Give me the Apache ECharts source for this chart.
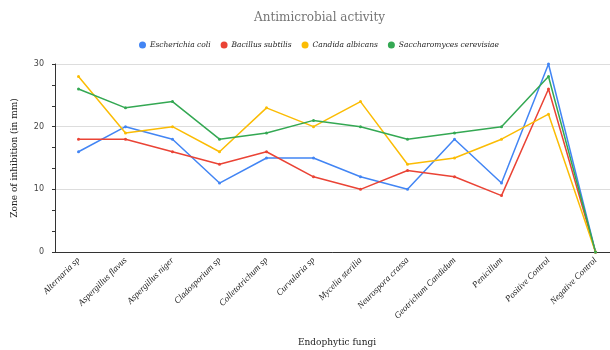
<!DOCTYPE html>
<html><head><meta charset="utf-8">
<script src="https://cdn.jsdelivr.net/npm/echarts@6/dist/echarts.min.js"></script>
<style>html,body{margin:0;padding:0;background:#fff}#c{width:610px;height:350px}</style>
</head><body><div id="c"></div>
<script>
const categories = ["Alternaria sp","Aspergillus flavus","Aspergillus niger","Cladosporium sp","Colletotrichum sp","Curvularia sp","Mycelia sterilia","Neurospora crassa","Geotrichum Candidum","Penicillum","Positive Control","Negative Control"];
const seriesNames = ["Escherichia coli","Bacillus subtilis","Candida albicans","Saccharomyces cerevisiae"];
const ecoli = [16,20,18,11,15,15,12,10,18,11,30,0];
const bsubtilis = [18,18,16,14,16,12,10,13,12,9,26,0];
const calbicans = [28,19,20,16,23,20,24,14,15,18,22,0];
const scerevisiae = [26,23,24,18,19,21,20,18,19,20,28,0];
const yTicks = [0,10,20,30];
const colors = ["#4285f4","#ea4335","#fbbc04","#34a853"];
const serif = "'DejaVu Serif', 'Liberation Serif', serif";
const lserif = "'Liberation Serif', serif";
const data = [ecoli,bsubtilis,calbicans,scerevisiae];
const chart = echarts.init(document.getElementById('c'));
chart.setOption({
  animation:false,
  color: colors,
  title:{text:"Antimicrobial activity",left:249,top:7,textStyle:{fontFamily:serif,fontSize:12,fontWeight:'normal',color:'#757575'}},
  legend:{top:36,left:134,itemWidth:7,itemHeight:7,itemGap:10,icon:'circle',
    textStyle:{fontFamily:serif,fontStyle:'italic',fontSize:7.5,color:'#222',padding:[0,0,0,-1]},data:seriesNames},
  grid:{left:55,right:-9,top:64,bottom:98,containLabel:false,outerBoundsMode:'none'},
  xAxis:{type:'category',data:categories,boundaryGap:true,
    name:"Endophytic fungi",nameLocation:'middle',nameGap:86,
    nameTextStyle:{fontFamily:serif,fontSize:9,color:'#222'},
    axisLine:{lineStyle:{color:'#333'}},
    axisTick:{alignWithLabel:true,length:5,lineStyle:{color:'#333'}},
    axisLabel:{rotate:45,interval:0,margin:7,fontFamily:lserif,fontStyle:'italic',fontSize:9,color:'#222'}},
  yAxis:{type:'value',min:yTicks[0],max:yTicks[yTicks.length-1],interval:10,
    name:"Zone of inhibition (in mm)",nameLocation:'middle',nameGap:36,
    nameTextStyle:{fontFamily:serif,fontSize:9,color:'#222'},
    axisLine:{show:true,lineStyle:{color:'#333'}},
    axisTick:{show:true,length:3,lineStyle:{color:'#333'}},
    minorTick:{show:true,splitNumber:3,length:3,lineStyle:{color:'#333'}},
    splitLine:{lineStyle:{color:'#ddd'}},
    axisLabel:{fontFamily:"'DejaVu Sans', sans-serif",fontSize:8,color:'#444',margin:11}},
  series: seriesNames.map((n,i)=>({name:n,type:'line',data:data[i],symbol:'circle',symbolSize:3,
    lineStyle:{width:1.5},itemStyle:{color:colors[i]}}))
});
</script></body></html>
